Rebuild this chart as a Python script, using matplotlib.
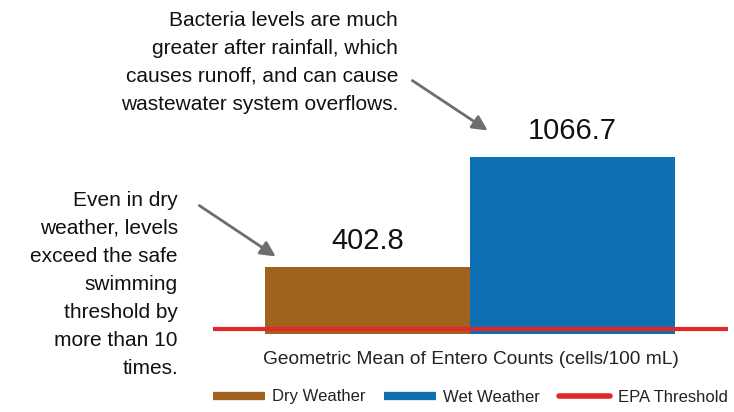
import matplotlib.pyplot as plt
from matplotlib.lines import Line2D

plt.rcParams['font.family'] = ['Liberation Sans', 'DejaVu Sans']

categories = ["Dry Weather", "Wet Weather"]
values = [402.8, 1066.7]
colors = ["#A0621F", "#0C70B2"]
epa_threshold = 30
axis_label = "Geometric Mean of Entero Counts (cells/100 mL)"
note_wet = "Bacteria levels are much\ngreater after rainfall, which\ncauses runoff, and can cause\nwastewater system overflows."
note_dry = "Even in dry\nweather, levels\nexceed the safe\nswimming\nthreshold by\nmore than 10\ntimes."

W, H = 734, 412
fig = plt.figure(figsize=(W / 100, H / 100), dpi=100)
ax = fig.add_axes([213 / W, (H - 334) / H, 515 / W, 199 / H])

x = list(range(len(categories)))
ax.bar(x, values, width=1.0, color=colors, zorder=2)
ax.axhline(epa_threshold, color="#E0282A", lw=3, zorder=3)
ax.set_xlim(-0.754, 1.759)
ax.set_ylim(0, 1200)
ax.axis("off")

for xi, v in zip(x, values):
    ax.annotate(f"{v:.1f}", (xi, v), xytext=(0, 9), textcoords="offset points",
                ha="center", va="bottom", fontsize=21, color="#111111")

ax.text(0.5, -(360 - 334) / 199, axis_label, transform=ax.transAxes, ha="center",
        va="center", fontsize=13.8, color="#222222")

handles = [
    Line2D([], [], color=colors[0], lw=6, solid_capstyle="butt"),
    Line2D([], [], color=colors[1], lw=6, solid_capstyle="butt"),
    Line2D([], [], color="#E0282A", lw=4, solid_capstyle="round"),
]
ax.legend(handles, categories + ["EPA Threshold"], loc="center",
          bbox_to_anchor=(0.5, -(397 - 334) / 199), ncol=3, frameon=False, fontsize=12,
          handlelength=3.1, handletextpad=0.45, columnspacing=1.1, labelcolor="#222222",
          borderaxespad=0, borderpad=0)

fig.text(398 / W, (H - 62) / H, note_wet, ha="right", va="center", fontsize=15,
         linespacing=1.6, color="#111111")
fig.text(178 / W, (H - 284) / H, note_dry, ha="right", va="center", fontsize=15,
         linespacing=1.6, color="#111111")

arrow = dict(arrowstyle="-|>,head_length=0.9,head_width=0.45", color="#6d6d6d", lw=2)
fig.add_artist(plt.Annotation("", xy=(490 / W, (H - 132) / H), xytext=(410 / W, (H - 79) / H),
                              xycoords="figure fraction", textcoords="figure fraction",
                              arrowprops=arrow))
fig.add_artist(plt.Annotation("", xy=(278 / W, (H - 258) / H), xytext=(197 / W, (H - 204) / H),
                              xycoords="figure fraction", textcoords="figure fraction",
                              arrowprops=arrow))

fig.savefig("out.png", dpi=100)
